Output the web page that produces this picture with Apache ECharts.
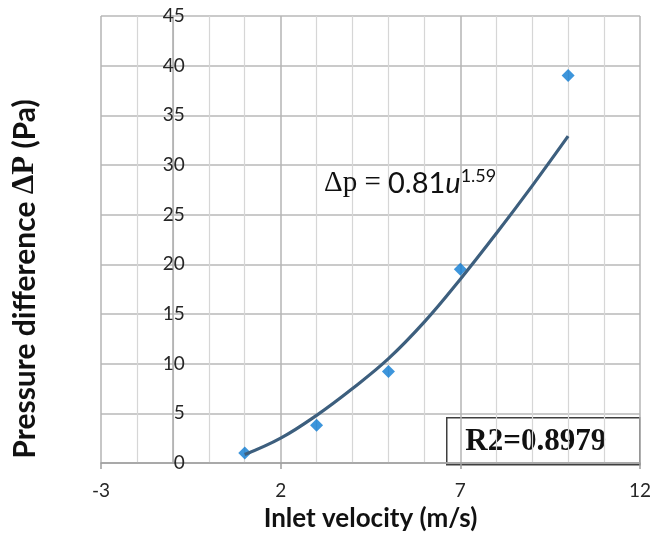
<!DOCTYPE html>
<html>
<head>
<meta charset="utf-8">
<title>Pressure difference vs inlet velocity</title>
<script src="https://cdn.jsdelivr.net/npm/echarts@6/dist/echarts.min.js"></script>
<style>
  html, body { margin: 0; padding: 0; background: #ffffff; }
  #chart { width: 654px; height: 543px; }
</style>
</head>
<body>
<div id="chart"></div>
<script>
// Measured points: inlet velocity (m/s) and pressure difference (Pa)
const velocity = [1, 3, 5, 7, 10];
const pressure = [1.0, 3.8, 9.2, 19.5, 39.0];

// Power-law trend line, sampled at whole velocities
const trendVelocity = [1, 2, 3, 4, 5, 6, 7, 8, 9, 10];
const trendPressure = [0.85, 2.5, 4.8, 7.5, 10.5, 14.2, 18.5, 23.1, 27.9, 32.9];

// Axis ranges and ticks
const xTicks = [-3, 2, 7, 12];
const yTicks = [0, 5, 10, 15, 20, 25, 30, 35, 40, 45];
const yAxisCrossAt = -1;

// Annotation texts
const xTitle = 'Inlet velocity (m/s)';
const yTitleParts = ['Pressure difference ', 'ΔP', ' (Pa)'];
const fitCoef = '0.81';
const fitExp = '1.59';
const r2Text = 'R2=0.8979';

const grid = { left: 101, right: 14, top: 16, bottom: 80 };
const chartW = 654, chartH = 543;
const plotW = chartW - grid.left - grid.right;
const xMin = xTicks[0], xMax = xTicks[xTicks.length - 1];
const xStep = xTicks[1] - xTicks[0];
const yStep = yTicks[1] - yTicks[0];
const yAxisShift = -(yAxisCrossAt - xMin) * plotW / (xMax - xMin);

const SANS = 'Lato, "Open Sans", sans-serif';
const SERIF = '"Liberation Serif", "DejaVu Serif", serif';

const chart = echarts.init(document.getElementById('chart'), null, { renderer: 'canvas' });

chart.setOption({
  animation: false,
  backgroundColor: '#ffffff',
  grid: grid,
  xAxis: {
    type: 'value',
    min: xMin,
    max: xMax,
    interval: xStep,
    name: xTitle,
    nameLocation: 'middle',
    nameGap: 43,
    nameTextStyle: { fontFamily: SANS, fontWeight: 'bold', fontSize: 26, color: '#111' },
    axisLine: { show: true, onZero: false, lineStyle: { color: '#9e9e9e', width: 1.5 } },
    axisTick: { show: true, inside: false, length: 6, lineStyle: { color: '#9e9e9e', width: 1.5 } },
    axisLabel: { fontFamily: SANS, fontSize: 19, color: '#262626', margin: 18 },
    splitLine: { show: true, lineStyle: { color: '#b4b4b4', width: 1.5 } },
    minorTick: { show: false, splitNumber: xStep },
    minorSplitLine: { show: true, lineStyle: { color: '#d6d6d6', width: 1.2 } }
  },
  yAxis: {
    type: 'value',
    min: yTicks[0],
    max: yTicks[yTicks.length - 1],
    interval: yStep,
    offset: yAxisShift,
    axisLine: { show: true, onZero: false, lineStyle: { color: '#a8a8a8', width: 1.5 } },
    axisTick: { show: false },
    axisLabel: { fontFamily: SANS, fontSize: 19, color: '#262626', margin: -12 },
    splitLine: { show: true, lineStyle: { color: '#b8b8b8', width: 1.5 } }
  },
  series: [
    {
      name: 'Measured',
      type: 'scatter',
      symbol: 'diamond',
      symbolSize: 13,
      itemStyle: { color: '#0d7ad2' },
      data: velocity.map((v, i) => [v, pressure[i]]),
      z: 3
    },
    {
      name: 'Power trend',
      type: 'line',
      smooth: 0.4,
      showSymbol: false,
      lineStyle: { color: '#3d5f7e', width: 3.2 },
      data: trendVelocity.map((v, i) => [v, trendPressure[i]]),
      z: 4
    }
  ],
  graphic: [
    {
      // vertical axis title, reading bottom to top
      type: 'text',
      x: 25,
      y: 279,
      rotation: Math.PI / 2,
      z: 10,
      style: {
        text: '{t|' + yTitleParts[0] + '}{s|' + yTitleParts[1] + '}{t|' + yTitleParts[2] + '}',
        align: 'center',
        verticalAlign: 'middle',
        rich: {
          t: { fontFamily: SANS, fontWeight: 'bold', fontSize: 30, fill: '#111' },
          s: { fontFamily: SERIF, fontWeight: 'bold', fontSize: 31, fill: '#111' }
        }
      }
    },
    {
      type: 'text',
      left: 324,
      top: 164,
      z: 10,
      style: {
        text: '{d|Δp = }{n|' + fitCoef + '}{u|u}{e|' + fitExp + '}',
        rich: {
          d: { fontFamily: SERIF, fontSize: 29, fill: '#111', lineHeight: 34, verticalAlign: 'bottom' },
          n: { fontFamily: SANS, fontSize: 29, fill: '#111', lineHeight: 34, verticalAlign: 'bottom' },
          u: { fontFamily: SANS, fontStyle: 'italic', fontSize: 29, fill: '#111', lineHeight: 34, verticalAlign: 'bottom' },
          e: { fontFamily: SANS, fontSize: 18, fill: '#111', lineHeight: 34, verticalAlign: 'top', padding: [3, 0, 0, 0] }
        }
      }
    },
    {
      type: 'group',
      left: 446,
      top: 417,
      z: 10,
      children: [
        {
          type: 'rect',
          shape: { x: 0, y: 0, width: 193, height: 47 },
          style: { fill: '#ffffff', stroke: '#3f3f3f', lineWidth: 1.5 }
        },
        {
          type: 'text',
          x: 89,
          y: 24,
          style: {
            text: r2Text,
            fontFamily: SERIF,
            fontWeight: 'bold',
            fontSize: 31,
            fill: '#111',
            align: 'center',
            verticalAlign: 'middle'
          }
        }
      ]
    }
  ]
});
</script>
</body>
</html>
